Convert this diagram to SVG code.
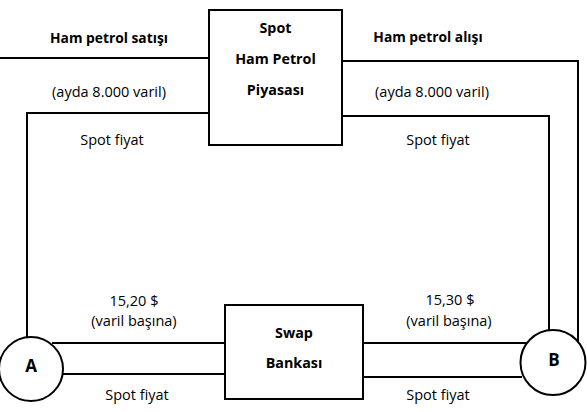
<svg xmlns="http://www.w3.org/2000/svg" width="587" height="412" viewBox="0 0 587 412">
<style>
.ln{fill:none;stroke:#000;stroke-width:2}
.bx{fill:#fff;stroke:#000;stroke-width:2}
text{font-family:"Open Sans","Liberation Sans",sans-serif;font-size:14.5px;fill:#000;text-anchor:middle}
.b{font-weight:bold;font-size:13.8px}
.bb{font-weight:bold;font-size:14.3px}
.ab{font-weight:bold;font-size:17px}
</style>
<rect width="587" height="412" fill="#fff"/>
<g id="connectors">
<polyline class="ln" points="0,58 209,58"/>
<polyline class="ln" points="209,113 27,113 27,338"/>
<polyline class="ln" points="342,61 578,61 578,346"/>
<polyline class="ln" points="342,116 549,116 549,331"/>
<line class="ln" x1="52" y1="343" x2="225" y2="343"/>
<line class="ln" x1="63" y1="374" x2="225" y2="374"/>
<line class="ln" x1="363" y1="343" x2="527" y2="343"/>
<line class="ln" x1="363" y1="377" x2="522" y2="377"/>
</g>
<g id="labels">
<text class="b" x="109" y="43">Ham petrol satışı</text>
<text x="109" y="97">(ayda 8.000 varil)</text>
<text x="112" y="145">Spot fiyat</text>
<text class="b" x="428" y="42">Ham petrol alışı</text>
<text x="432" y="97">(ayda 8.000 varil)</text>
<text x="438" y="145">Spot fiyat</text>
<text x="134" y="306">15,20 $</text>
<text x="134" y="326">(varil başına)</text>
<text x="137" y="400">Spot fiyat</text>
<text x="450" y="305">15,30 $</text>
<text x="449" y="326">(varil başına)</text>
<text x="438" y="400">Spot fiyat</text>
</g>
<g id="spot-market">
<rect class="bx" x="209" y="10" width="133" height="135"/>
<text class="bb" x="275.5" y="33">Spot</text>
<text class="bb" x="275.5" y="64">Ham Petrol</text>
<text class="bb" x="275.5" y="95">Piyasası</text>
</g>
<g id="swap-bank">
<rect class="bx" x="225" y="305" width="138" height="94"/>
<text class="bb" x="294" y="338">Swap</text>
<text class="bb" x="294" y="368">Bankası</text>
</g>
<g id="node-a">
<circle class="bx" cx="31" cy="369" r="32"/>
<text class="ab" x="31" y="372">A</text>
</g>
<g id="node-b">
<circle class="bx" cx="553" cy="362.5" r="32.5"/>
<text class="ab" x="554" y="366">B</text>
</g>
</svg>
